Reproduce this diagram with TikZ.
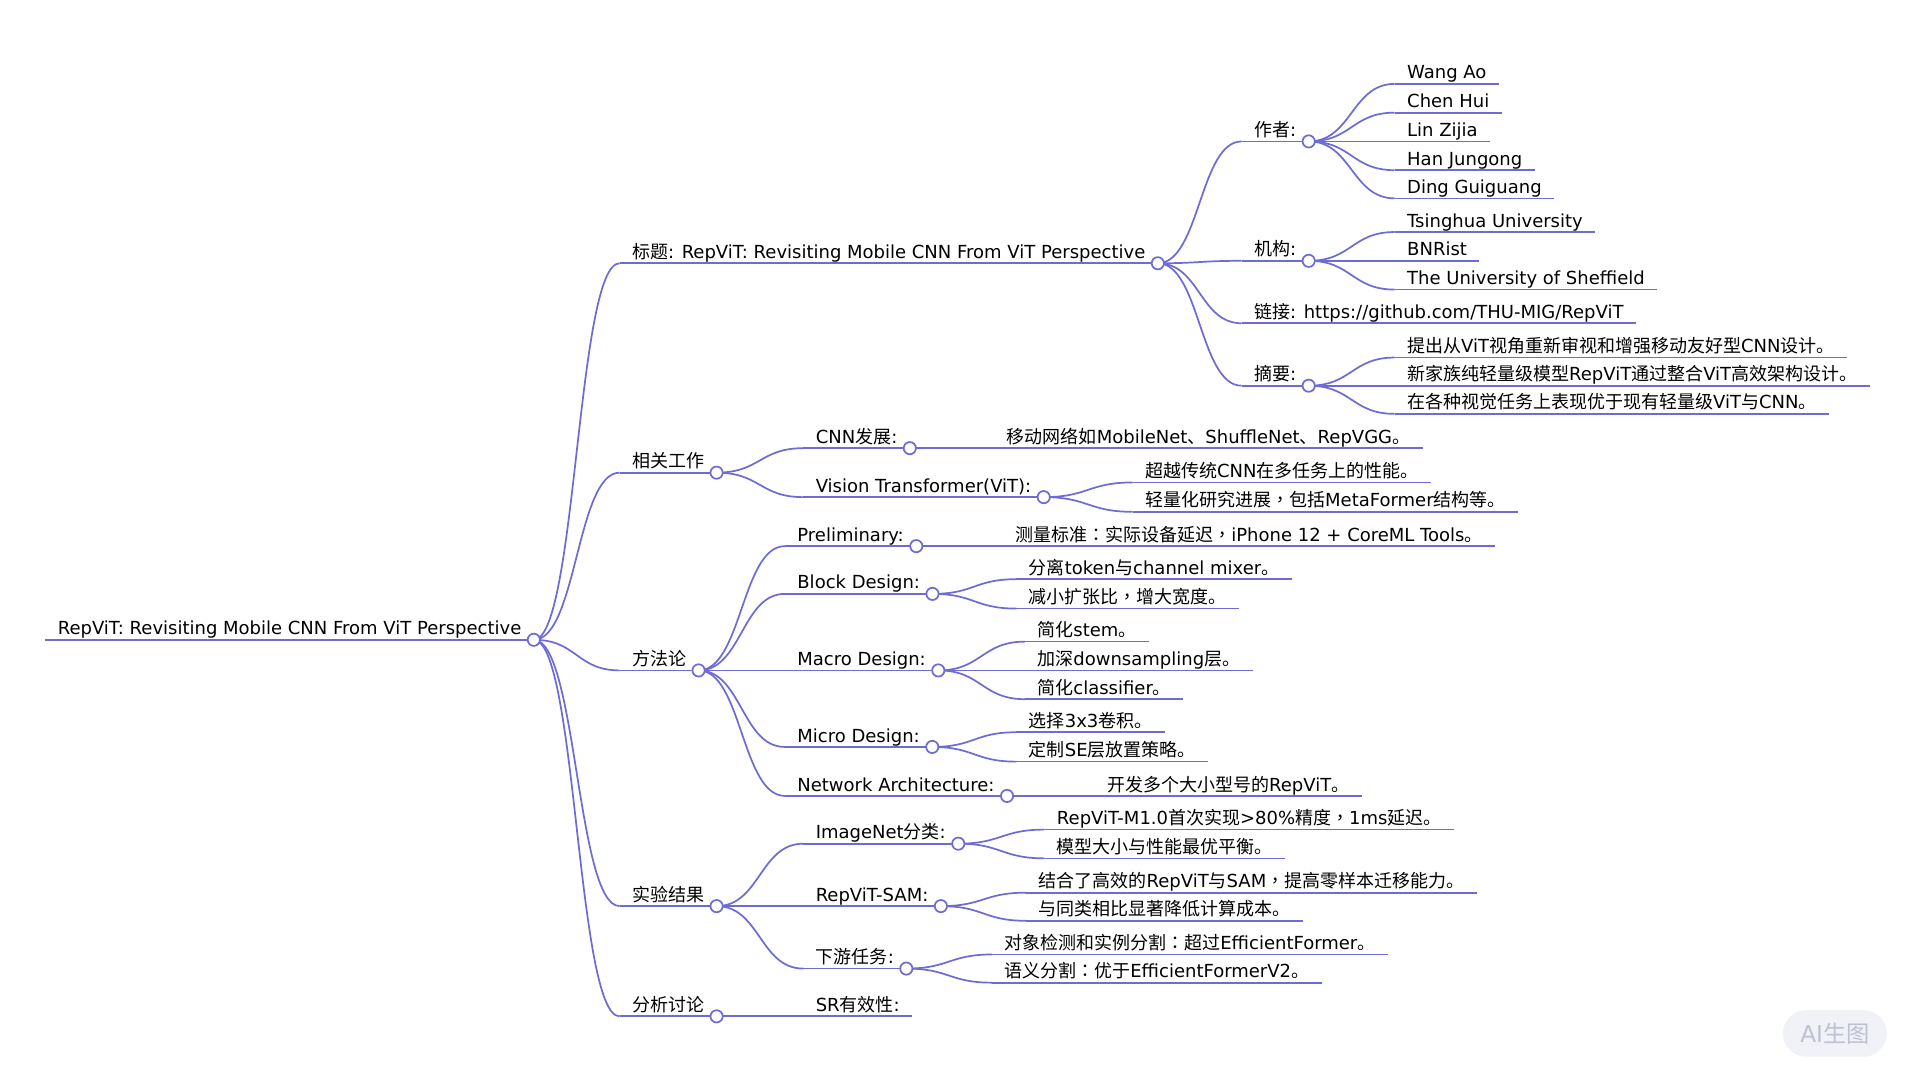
\documentclass[tikz,border=0pt]{standalone}
\usepackage{fontspec}
\setmainfont{DejaVu Sans}
\newfontfamily\cjkfont{Noto Sans CJK SC}
\newfontfamily\cjkpunctfont{Noto Sans CJK TC}
\newfontfamily\latinfont{DejaVu Sans}
\usetikzlibrary{calc}

% Chinese characters get the CJK font, everything else DejaVu
\XeTeXinterchartokenstate=1
\newXeTeXintercharclass\cjkclass
\newXeTeXintercharclass\punctclass
\newcount\cjkchar
\def\setcjkrange#1#2{\cjkchar=#1 \loop\XeTeXcharclass\cjkchar=\cjkclass
  \ifnum\cjkchar<#2 \advance\cjkchar by 1 \repeat}
\setcjkrange{"3000}{"303F}
\setcjkrange{"4E00}{"9FFF}
\setcjkrange{"FF00}{"FFEF}
\XeTeXcharclass"FF0C=\punctclass
\XeTeXcharclass"FF1A=\punctclass
\XeTeXinterchartoks 0 \cjkclass={\cjkfont}
\XeTeXinterchartoks 4095 \cjkclass={\cjkfont}
\XeTeXinterchartoks \cjkclass 0={\latinfont}
\XeTeXinterchartoks \cjkclass 4095={\latinfont}
\XeTeXinterchartoks 0 \punctclass={\cjkpunctfont}
\XeTeXinterchartoks 4095 \punctclass={\cjkpunctfont}
\XeTeXinterchartoks \cjkclass \punctclass={\cjkpunctfont}
\XeTeXinterchartoks \punctclass \cjkclass={\cjkfont}
\XeTeXinterchartoks \punctclass 0={\latinfont}
\XeTeXinterchartoks \punctclass 4095={\latinfont}

\definecolor{linec}{RGB}{108,108,212}
\definecolor{badgefill}{RGB}{241,242,247}
\definecolor{badgetext}{RGB}{190,193,210}

\begin{document}
\begin{tikzpicture}[x=1pt,y=-1pt,
    topic/.style={anchor=south west,inner xsep=10pt,inner ysep=0.3pt,
      text height=11pt,text depth=3.5pt,font=\fontsize{14.7}{17}\selectfont},
    rule/.style={draw=linec,line width=1.4pt},
    hub/.style={circle,draw=linec,fill=white,line width=1.4pt,
      minimum size=10pt,inner sep=0pt},
    branch/.style={draw=linec,line width=1.4pt,
      to path={let \p1=(\tikztostart), \p2=(\tikztotarget),
        \n1={0.5*(\x2-\x1)} in
        .. controls +(\n1,0pt) and +(-\n1,0pt) .. (\tikztotarget)}},
    badge/.style={rounded corners=19pt,fill=badgefill,text=badgetext,
      minimum width=85pt,minimum height=38pt,inner sep=0pt,
      font=\fontsize{19}{22}\selectfont}]
  \fill[white] (0,0) rectangle (1568,882);
  \useasboundingbox (0,0) rectangle (1568,882);

  % root and first level
  \node[topic] (root) at (37,522.5) {RepViT: Revisiting Mobile CNN From ViT Perspective};
  \node[topic] (title) at (506,215) {标题: RepViT: Revisiting Mobile CNN From ViT Perspective};
  \node[topic] (related) at (506,386) {相关工作};
  \node[topic] (method) at (506,547.5) {方法论};
  \node[topic] (exp) at (506,740) {实验结果};
  \node[topic] (disc) at (506,830) {分析讨论};

  % title
  \node[topic] (authors) at (1014,115.5) {作者:};
  \node[topic] (inst) at (1014,213) {机构:};
  \node[topic] (link) at (1014,264) {链接: https://github.com/THU-MIG/RepViT};
  \node[topic] (abs) at (1014,315) {摘要:};
  \node[topic] (a1) at (1139,68.5) {Wang Ao};
  \node[topic] (a2) at (1139,92) {Chen Hui};
  \node[topic] (a3) at (1139,115.5) {Lin Zijia};
  \node[topic] (a4) at (1139,139) {Han Jungong};
  \node[topic] (a5) at (1139,162) {Ding Guiguang};
  \node[topic] (i1) at (1139,189.5) {Tsinghua University};
  \node[topic] (i2) at (1139,213) {BNRist};
  \node[topic] (i3) at (1139,236.5) {The University of Sheffield};
  \node[topic] (s1) at (1139,292) {提出从ViT视角重新审视和增强移动友好型CNN设计。};
  \node[topic] (s2) at (1139,315) {新家族纯轻量级模型RepViT通过整合ViT高效架构设计。};
  \node[topic] (s3) at (1139,338) {在各种视觉任务上表现优于现有轻量级ViT与CNN。};

  % related work
  \node[topic] (cnn) at (656,366) {CNN发展:};
  \node[topic] (cnn1) at (812,366) {移动网络如MobileNet、ShuffleNet、RepVGG。};
  \node[topic] (vit) at (656,406) {Vision Transformer(ViT):};
  \node[topic] (vit1) at (925,394) {超越传统CNN在多任务上的性能。};
  \node[topic] (vit2) at (925,418) {轻量化研究进展，包括MetaFormer结构等。};

  % method
  \node[topic] (pre) at (641,446) {Preliminary:};
  \node[topic] (pre1) at (819,446) {测量标准：实际设备延迟，iPhone 12 + CoreML Tools。};
  \node[topic] (block) at (641,485) {Block Design:};
  \node[topic] (block1) at (830,473) {分离token与channel mixer。};
  \node[topic] (block2) at (830,497) {减小扩张比，增大宽度。};
  \node[topic] (macro) at (641,547.5) {Macro Design:};
  \node[topic] (macro1) at (837,524) {简化stem。};
  \node[topic] (macro2) at (837,547.5) {加深downsampling层。};
  \node[topic] (macro3) at (837,571) {简化classifier。};
  \node[topic] (micro) at (641,610) {Micro Design:};
  \node[topic] (micro1) at (830,598) {选择3x3卷积。};
  \node[topic] (micro2) at (830,622) {定制SE层放置策略。};
  \node[topic] (net) at (641,650) {Network Architecture:};
  \node[topic] (net1) at (894,650) {开发多个大小型号的RepViT。};

  % experiments
  \node[topic] (imnet) at (656,689) {ImageNet分类:};
  \node[topic] (imnet1) at (853,677.5) {RepViT-M1.0首次实现>80\%精度，1ms延迟。};
  \node[topic] (imnet2) at (853,701) {模型大小与性能最优平衡。};
  \node[topic] (sam) at (656,740) {RepViT-SAM:};
  \node[topic] (sam1) at (838,729) {结合了高效的RepViT与SAM，提高零样本迁移能力。};
  \node[topic] (sam2) at (838,752) {与同类相比显著降低计算成本。};
  \node[topic] (down) at (656,791) {下游任务:};
  \node[topic] (down1) at (810,779.5) {对象检测和实例分割：超过EfficientFormer。};
  \node[topic] (down2) at (810,802.5) {语义分割：优于EfficientFormerV2。};

  % discussion
  \node[topic] (sr) at (656,830) {SR有效性:};

  % underlines
  \foreach \n in {root,title,related,method,exp,disc,authors,inst,link,abs,
      a1,a2,a3,a4,a5,i1,i2,i3,s1,s2,s3,cnn,cnn1,vit,vit1,vit2,pre,pre1,
      block,block1,block2,macro,macro1,macro2,macro3,micro,micro1,micro2,
      net,net1,imnet,imnet1,imnet2,sam,sam1,sam2,down,down1,down2,sr}
    \draw[rule] (\n.south west) -- (\n.south east);

  % branches
  \path (root.south east) edge[branch] (title.south west)
    edge[branch] (related.south west) edge[branch] (method.south west)
    edge[branch] (exp.south west) edge[branch] (disc.south west);
  \path (title.south east) edge[branch] (authors.south west)
    edge[branch] (inst.south west) edge[branch] (link.south west)
    edge[branch] (abs.south west);
  \path (authors.south east) edge[branch] (a1.south west)
    edge[branch] (a2.south west) edge[branch] (a3.south west)
    edge[branch] (a4.south west) edge[branch] (a5.south west);
  \path (inst.south east) edge[branch] (i1.south west)
    edge[branch] (i2.south west) edge[branch] (i3.south west);
  \path (abs.south east) edge[branch] (s1.south west)
    edge[branch] (s2.south west) edge[branch] (s3.south west);
  \path (related.south east) edge[branch] (cnn.south west)
    edge[branch] (vit.south west);
  \path (cnn.south east) edge[branch] (cnn1.south west);
  \path (vit.south east) edge[branch] (vit1.south west)
    edge[branch] (vit2.south west);
  \path (method.south east) edge[branch] (pre.south west)
    edge[branch] (block.south west) edge[branch] (macro.south west)
    edge[branch] (micro.south west) edge[branch] (net.south west);
  \path (pre.south east) edge[branch] (pre1.south west);
  \path (block.south east) edge[branch] (block1.south west)
    edge[branch] (block2.south west);
  \path (macro.south east) edge[branch] (macro1.south west)
    edge[branch] (macro2.south west) edge[branch] (macro3.south west);
  \path (micro.south east) edge[branch] (micro1.south west)
    edge[branch] (micro2.south west);
  \path (net.south east) edge[branch] (net1.south west);
  \path (exp.south east) edge[branch] (imnet.south west)
    edge[branch] (sam.south west) edge[branch] (down.south west);
  \path (imnet.south east) edge[branch] (imnet1.south west)
    edge[branch] (imnet2.south west);
  \path (sam.south east) edge[branch] (sam1.south west)
    edge[branch] (sam2.south west);
  \path (down.south east) edge[branch] (down1.south west)
    edge[branch] (down2.south west);
  \path (disc.south east) edge[branch] (sr.south west);

  % hubs on top
  \foreach \n in {root,title,related,method,exp,disc,authors,inst,abs,
      cnn,vit,pre,block,macro,micro,net,imnet,sam,down}
    \node[hub] (\n-hub) at (\n.south east) {};

  \node[badge] (badge) at (1498.5,844) {AI生图};
\end{tikzpicture}
\end{document}
